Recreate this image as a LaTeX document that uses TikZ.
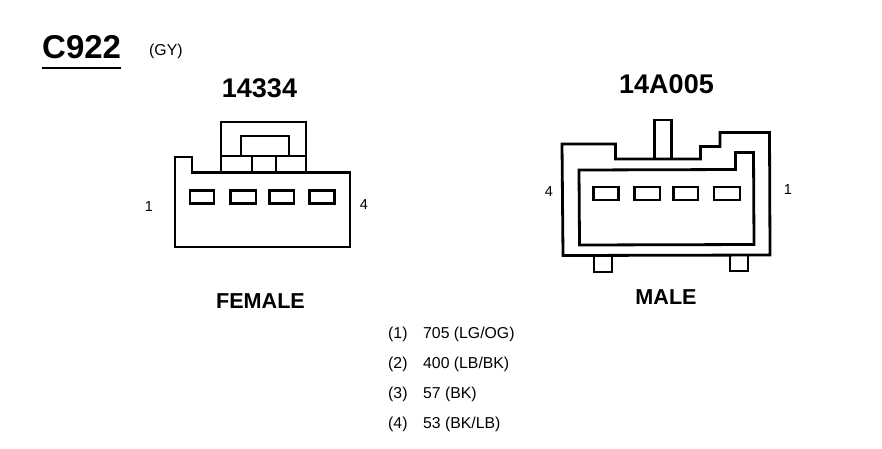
\documentclass[tikz,border=0pt]{standalone}
\usepackage{fontspec}
\setmainfont{Liberation Sans}
\tikzset{
  part/.style={draw=black,line width=2.7pt,line join=miter},
  thick outline/.style={draw=black,line width=2.8pt,line join=miter},
  slot/.style={draw=black,line width=2.9pt},
  txt/.style={inner sep=0pt,anchor=base west,text=black},
  txtc/.style={inner sep=0pt,anchor=base,text=black},
  hugebold/.style={txt,font=\fontsize{33}{33}\selectfont\bfseries},
  codebold/.style={txtc,font=\fontsize{27}{27}\selectfont\bfseries},
  genderbold/.style={txtc,font=\fontsize{21.6}{22}\selectfont\bfseries},
  small/.style={txt,font=\fontsize{15.8}{16}\selectfont},
  smallc/.style={txtc,font=\fontsize{14.5}{15}\selectfont},
}
\begin{document}
\begin{tikzpicture}[x=1pt,y=-1pt]
\useasboundingbox[fill=white] (0,0) rectangle (882,448);
% titles
\node[hugebold] (title) at (42,58) {C922};
\draw[line width=2.2pt] (42,68) -- (121,68);
\node[small] (gy) at (149,55) {(GY)};
\node[codebold] (codeF) at (259.5,97) {14334};
\node[codebold] (codeM) at (666.5,93) {14A005};
\node[genderbold] (genderF) at (260.5,308) {FEMALE};
\node[genderbold] (genderM) at (666,304) {MALE};
% female connector
\draw[thick outline] (175,157) -- (192,157) -- (192,172.5) -- (350,172.5) -- (350,247) -- (175,247) -- cycle;
\draw[part] (221,172.5) -- (221,122) -- (306,122) -- (306,172.5);
\draw[part] (221,156) -- (306,156);
\draw[part] (241,156) -- (241,136) -- (289,136) -- (289,156);
\draw[part] (252,156) -- (252,172.5) (276,156) -- (276,172.5);
\foreach \xa/\xb in {190/214,230.5/256,269.5/294,309.5/334.5}
  \draw[slot] (\xa,190.5) rectangle (\xb,203.5);
\node[smallc] (f1) at (149,211) {1};
\node[smallc] (f4) at (364,209) {4};
% male connector
\draw[thick outline] (562,144) -- (615.5,144) -- (615.5,159) -- (700.5,159) -- (700.5,146.5) -- (720,146.5) -- (720,132.5) -- (769.5,132.5) -- (770,255) -- (563,255.5) -- cycle;
\draw[part] (654.5,159) -- (654.5,120) -- (671.5,120) -- (671.5,159);
\draw[thick outline] (579,170) -- (735.5,169.5) -- (735.5,152.5) -- (753.5,152.5) -- (754,244.5) -- (579.5,245) -- cycle;
\foreach \xa/\xb in {593.5/618.5,634.5/660,673.5/698,714/740}
  \draw[slot] (\xa,187) rectangle (\xb,200);
\draw[part] (594,255.5) -- (594,272) -- (612,272) -- (612,255.5);
\draw[part] (730,255) -- (730,271) -- (748,271) -- (748,255);
\node[smallc] (m4) at (549,196) {4};
\node[smallc] (m1) at (788,194) {1};
% pin list
\node[small] (p1) at (388,338.5) {(1)};
\node[small] (w1) at (423,338.5) {705 (LG/OG)};
\node[small] (p2) at (388,368) {(2)};
\node[small] (w2) at (423,368) {400 (LB/BK)};
\node[small] (p3) at (388,398) {(3)};
\node[small] (w3) at (423,398) {57 (BK)};
\node[small] (p4) at (388,428.5) {(4)};
\node[small] (w4) at (423,428.5) {53 (BK/LB)};
\end{tikzpicture}
\end{document}
